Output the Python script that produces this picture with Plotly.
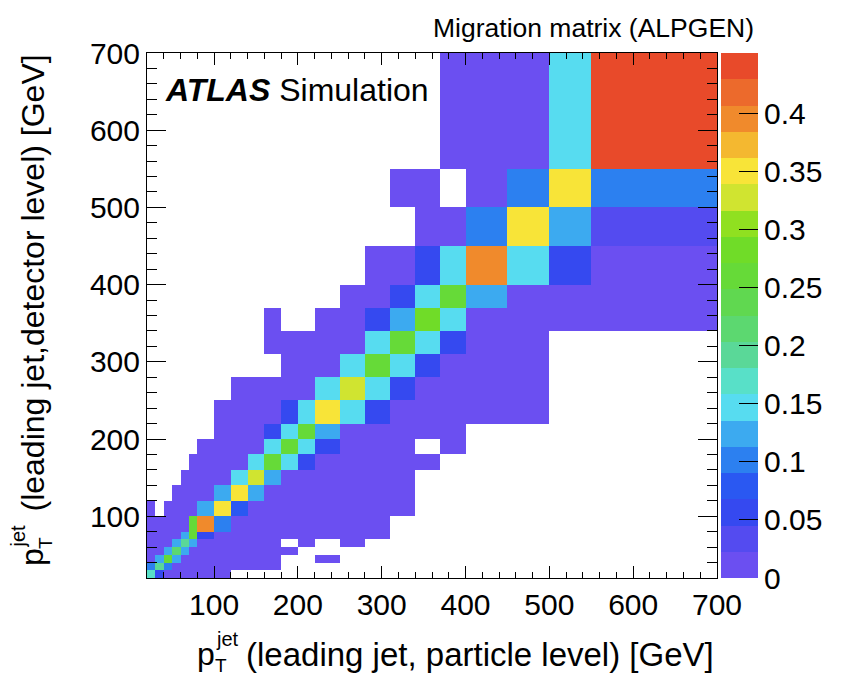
import plotly.graph_objects as go

# Bin edges (GeV), identical for particle level (x) and detector level (y)
pt_edges = [20, 30, 40, 50, 60, 70, 80, 100, 120, 140, 160, 180, 200, 220,
            250, 280, 310, 340, 370, 400, 450, 500, 550, 700]

_ = None
# Migration fractions, one row per detector-level bin (bottom to top),
# columns are particle-level bins; None = empty bin
migration = [
    [.17, .06, .01, .01, .01, .01, .01, .01, _, _, _, _, _, _, _, _, _, _, _, _, _, _, _],
    [.10, .20, .10, .01, .01, .01, .01, .01, .01, .01, .01, _, _, _, _, _, _, _, _, _, _, _, _],
    [.01, .12, .25, .12, .01, .01, .01, .01, .01, .01, .01, _, _, .01, _, _, _, _, _, _, _, _, _],
    [.01, .01, .12, .22, .12, .01, .01, .01, .01, .01, .01, .01, _, _, _, _, _, _, _, _, _, _, _],
    [.01, .01, .01, .12, .20, .12, .01, .01, .01, .01, .01, _, .01, _, .01, _, _, _, _, _, _, _, _],
    [.01, .01, .01, .01, .12, .25, .06, .01, .01, .01, .01, .01, .01, .01, .01, .01, _, _, _, _, _, _, _],
    [.01, .01, .01, .01, .01, .26, .39, .10, .01, .01, .01, .01, .01, .01, .01, .01, _, _, _, _, _, _, _],
    [.01, _, .01, .01, .01, .01, .12, .35, .08, .01, .01, .01, .01, .01, .01, .01, .01, _, _, _, _, _, _],
    [_, _, _, .01, .01, .01, .01, .125, .345, .125, .01, .01, .01, .01, .01, .01, .01, _, _, _, _, _, _],
    [_, _, _, _, .01, .01, .01, .01, .145, .335, .125, .01, .01, .01, .01, .01, .01, _, _, _, _, _, _],
    [_, _, _, _, _, .01, .01, .01, .01, .145, .27, .145, .06, .01, .01, .01, .01, .01, _, _, _, _, _],
    [_, _, _, _, _, _, .01, .01, .01, .01, .145, .27, .145, .06, .01, .01, .01, _, .01, _, _, _, _],
    [_, _, _, _, _, _, _, .01, .01, .01, .06, .145, .27, .125, .01, .01, .01, .01, .01, _, _, _, _],
    [_, _, _, _, _, _, _, .01, .01, .01, .01, .06, .145, .36, .145, .06, .01, .01, .01, .01, .01, _, _],
    [_, _, _, _, _, _, _, _, .01, .01, .01, .01, .01, .145, .33, .145, .06, .01, .01, .01, .01, _, _],
    [_, _, _, _, _, _, _, _, _, _, _, .01, .01, .01, .145, .27, .145, .06, .01, .01, .01, _, _],
    [_, _, _, _, _, _, _, _, _, _, .01, .01, .01, .01, .01, .145, .27, .145, .06, .01, .01, _, _],
    [_, _, _, _, _, _, _, _, _, _, .01, _, _, .01, .01, .06, .125, .28, .145, .01, .01, .01, .01],
    [_, _, _, _, _, _, _, _, _, _, _, _, _, _, .01, .01, .06, .145, .27, .125, .01, .01, .01],
    [_, _, _, _, _, _, _, _, _, _, _, _, _, _, _, .01, .01, .06, .145, .39, .145, .06, .01],
    [_, _, _, _, _, _, _, _, _, _, _, _, _, _, _, _, _, .01, .01, .10, .355, .125, .035],
    [_, _, _, _, _, _, _, _, _, _, _, _, _, _, _, _, .01, .01, _, .01, .10, .35, .10],
    [_, _, _, _, _, _, _, _, _, _, _, _, _, _, _, _, _, _, .01, .01, .01, .145, .44],
]

z_max = 0.452
# 20 contour levels, violet -> red
band_colors = [
    "#6b4ff1", "#544bf0", "#3549f0", "#2a58f2", "#2c80f0",
    "#3caaf0", "#57dcf0", "#58e0c8", "#5ad898", "#5cd870",
    "#60d850", "#66da38", "#70dc28", "#90e020", "#d0e430",
    "#f8e438", "#f4b830", "#f08a2c", "#ec6a2c", "#e84a2a",
]
n_band = len(band_colors)
colorscale = []
for i, c in enumerate(band_colors):
    colorscale.append([i / n_band, c])
    colorscale.append([(i + 1) / n_band, c])

# colour key: one cell per contour level
level_edges = [z_max * i / n_band for i in range(n_band + 1)]
level_mid = [[z_max * (i + 0.5) / n_band] for i in range(n_band)]

cbar_ticks = [0, 0.05, 0.1, 0.15, 0.2, 0.25, 0.3, 0.35, 0.4]
cbar_labels = ["0", "0.05", "0.1", "0.15", "0.2", "0.25", "0.3", "0.35", "0.4"]
axis_ticks = [100, 200, 300, 400, 500, 600, 700]

FONT = "Liberation Sans, Arial, Helvetica, sans-serif"
W, H = 848, 676
L, R, T, B = 147, 717, 53, 578  # main frame in pixels
KEY_L, KEY_R = 721, 758          # colour key in pixels
PW = KEY_R - L                   # paper width

fig = go.Figure()
fig.add_trace(go.Heatmap(
    x=pt_edges, y=pt_edges, z=migration,
    zmin=0, zmax=z_max, colorscale=colorscale, hoverongaps=False,
    showscale=False, xaxis="x", yaxis="y",
))
fig.add_trace(go.Heatmap(
    x=[0, 1], y=level_edges, z=level_mid,
    zmin=0, zmax=z_max, colorscale=colorscale,
    showscale=False, hoverinfo="skip", xaxis="x2", yaxis="y2",
))

axis_common = dict(
    range=[20, 700], tickvals=axis_ticks, ticks="inside",
    showline=True, linecolor="black", linewidth=1, mirror="ticks",
    showgrid=False, zeroline=False, tickcolor="black",
    tickfont=dict(family=FONT, size=30, color="black"),
    minor=dict(dtick=20, tick0=20, ticks="inside", tickcolor="black", showgrid=False),
)

fig.update_layout(
    xaxis=dict(**axis_common, domain=[0, (R - L) / PW], ticklen=12, minor_ticklen=6),
    yaxis=dict(**axis_common, domain=[0, 1], ticklen=19, minor_ticklen=10),
    xaxis2=dict(domain=[(KEY_L - L) / PW, 1], range=[0, 1], visible=False, anchor="y2"),
    yaxis2=dict(domain=[0, 1], range=[0, z_max], anchor="x2", side="right",
                tickvals=cbar_ticks, ticktext=cbar_labels, ticks="inside",
                ticklen=19, tickcolor="black", showline=False, showgrid=False,
                zeroline=False, ticklabelstandoff=5,
                tickfont=dict(family=FONT, size=30, color="black")),
)


def px(xp):
    return (xp - L) / PW


def py(yp):
    return (B - yp) / (B - T)


def note(text, x, y, size, xanchor="left", yanchor="middle", angle=0):
    fig.add_annotation(text=text, x=px(x), y=py(y), xref="paper", yref="paper",
                       xanchor=xanchor, yanchor=yanchor, showarrow=False,
                       textangle=angle, font=dict(family=FONT, size=size, color="black"))


note("Migration matrix (ALPGEN)", 756, 28, 26.5, xanchor="right")
note("<b><i>ATLAS</i></b> Simulation", 163, 90, 32)

# x-axis title with stacked sub/superscript
note("p", 195, 654, 32)
note("jet", 214, 639, 20)
note("T", 213, 665, 19)
note("(leading jet, particle level) [GeV]", 716, 654, 33, xanchor="right")

# y-axis title, rotated
note("p", 32, 568, 32, xanchor="center", yanchor="bottom", angle=-90)
note("jet", 17, 550, 20, xanchor="center", yanchor="bottom", angle=-90)
note("T", 45, 551, 19, xanchor="center", yanchor="bottom", angle=-90)
note("(leading jet,detector level) [GeV]", 32, 53, 32, xanchor="center", yanchor="top", angle=-90)

fig.update_layout(
    width=W, height=H,
    margin=dict(l=L, r=W - KEY_R, t=T, b=H - B, autoexpand=False),
    paper_bgcolor="white", plot_bgcolor="white",
    font=dict(family=FONT, color="black"),
)

fig.write_html("out.html")
